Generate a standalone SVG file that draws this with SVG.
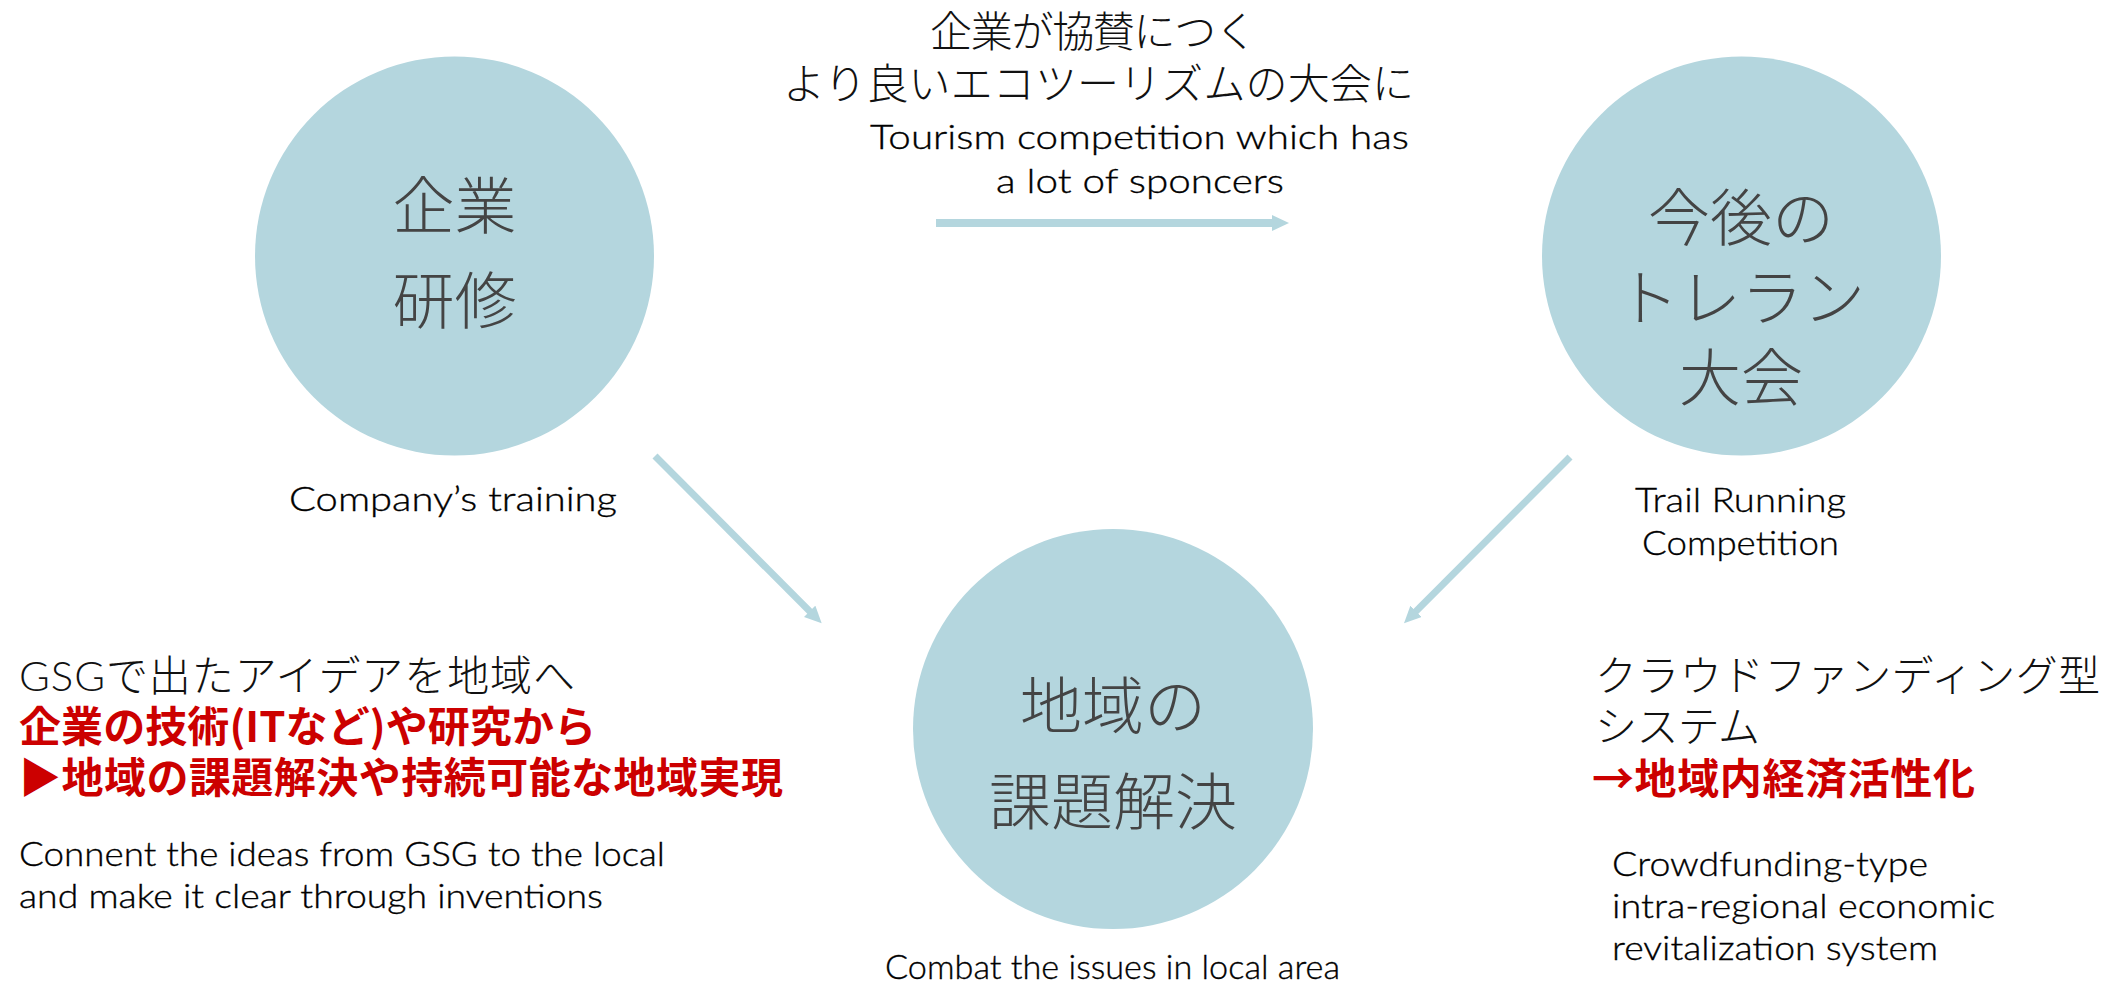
<svg xmlns="http://www.w3.org/2000/svg" width="2105" height="983" viewBox="0 0 2105 983">
<style>
.bg{fill:#ffffff}
.node{fill:#b4d6de}
.ctext{font-family:"Noto Sans CJK JP","Noto Sans CJK SC",sans-serif;font-size:62px;fill:#444444;text-anchor:middle;font-weight:300}
.jp{font-family:"Noto Sans CJK JP","Noto Sans CJK SC",sans-serif;font-size:42px;fill:#111111;font-weight:300}
.red{font-family:"Noto Sans CJK JP","Noto Sans CJK SC",sans-serif;font-size:42px;fill:#cc0000;font-weight:700}
.en{font-family:Lato,"Open Sans",sans-serif;font-size:34px;fill:#000000;font-weight:300;stroke:#000000;stroke-width:0.35px}
.lat{font-family:Lato,"Open Sans",sans-serif;font-weight:300}
.conn{stroke:#b4d6de;fill:none;stroke-linecap:butt}
</style>
<defs>
<marker id="ah" markerUnits="userSpaceOnUse" markerWidth="18" markerHeight="17" refX="3" refY="8" orient="auto">
<path d="M0,0 L17,8 L0,16 z" fill="#b4d6de"/>
</marker>
</defs>
<rect class="bg" x="0" y="0" width="2105" height="983"/>

<g id="connectors">
<line class="conn" x1="936" y1="223" x2="1275" y2="223" stroke-width="8" marker-end="url(#ah)"/>
<line class="conn" x1="655" y1="456" x2="811.8" y2="613.4" stroke-width="7" marker-end="url(#ah)"/>
<line class="conn" x1="1570" y1="457" x2="1413.9" y2="613.4" stroke-width="7" marker-end="url(#ah)"/>
</g>

<g id="node-training">
<circle class="node" cx="454.5" cy="256" r="199.5"/>
<text class="ctext" x="454.5" y="228.5">企業</text>
<text class="ctext" x="454.5" y="323.5">研修</text>
<text class="en" x="289" y="511" textLength="328" lengthAdjust="spacingAndGlyphs">Company’s training</text>
</g>

<g id="node-competition">
<circle class="node" cx="1741.5" cy="256" r="199.5"/>
<text class="ctext" x="1741" y="241">今後の</text>
<text class="ctext" x="1741" y="321">トレラン</text>
<text class="ctext" x="1741" y="401">大会</text>
<text class="en" x="1635" y="512" textLength="211" lengthAdjust="spacingAndGlyphs">Trail Running</text>
<text class="en" x="1642" y="555" textLength="197" lengthAdjust="spacingAndGlyphs">Competition</text>
</g>

<g id="node-local">
<circle class="node" cx="1113" cy="729" r="200"/>
<text class="ctext" x="1113" y="728.5">地域の</text>
<text class="ctext" x="1113" y="824.5">課題解決</text>
<text class="en" x="885" y="979" textLength="455" lengthAdjust="spacingAndGlyphs">Combat the issues in local area</text>
</g>

<g id="label-top">
<text class="jp" x="930" y="47" textLength="327">企業が協賛につく</text>
<text class="jp" x="783" y="99" textLength="631">より良いエコツーリズムの大会に</text>
<text class="en" x="870" y="149" textLength="539" lengthAdjust="spacingAndGlyphs">Tourism competition which has</text>
<text class="en" x="996" y="193" textLength="288" lengthAdjust="spacingAndGlyphs">a lot of sponcers</text>
</g>

<g id="label-left">
<text class="jp" x="19" y="691" textLength="556"><tspan class="lat">GSG</tspan>で出たアイデアを地域へ</text>
<text class="red" x="19" y="742" textLength="577">企業の技術(ITなど)や研究から</text>
<text class="red" x="19" y="793" textLength="764">▶地域の課題解決や持続可能な地域実現</text>
<text class="en" x="19" y="866" textLength="646" lengthAdjust="spacingAndGlyphs">Connent the ideas from GSG to the local</text>
<text class="en" x="19" y="908" textLength="584" lengthAdjust="spacingAndGlyphs">and make it clear through inventions</text>
</g>

<g id="label-right">
<text class="jp" x="1595" y="691" textLength="505">クラウドファンディング型</text>
<text class="jp" x="1595" y="742" textLength="165">システム</text>
<text class="red" x="1592" y="794" textLength="383">→地域内経済活性化</text>
<text class="en" x="1612" y="876" textLength="316" lengthAdjust="spacingAndGlyphs">Crowdfunding-type</text>
<text class="en" x="1612" y="918" textLength="383" lengthAdjust="spacingAndGlyphs">intra-regional economic</text>
<text class="en" x="1612" y="960" textLength="326" lengthAdjust="spacingAndGlyphs">revitalization system</text>
</g>
</svg>
